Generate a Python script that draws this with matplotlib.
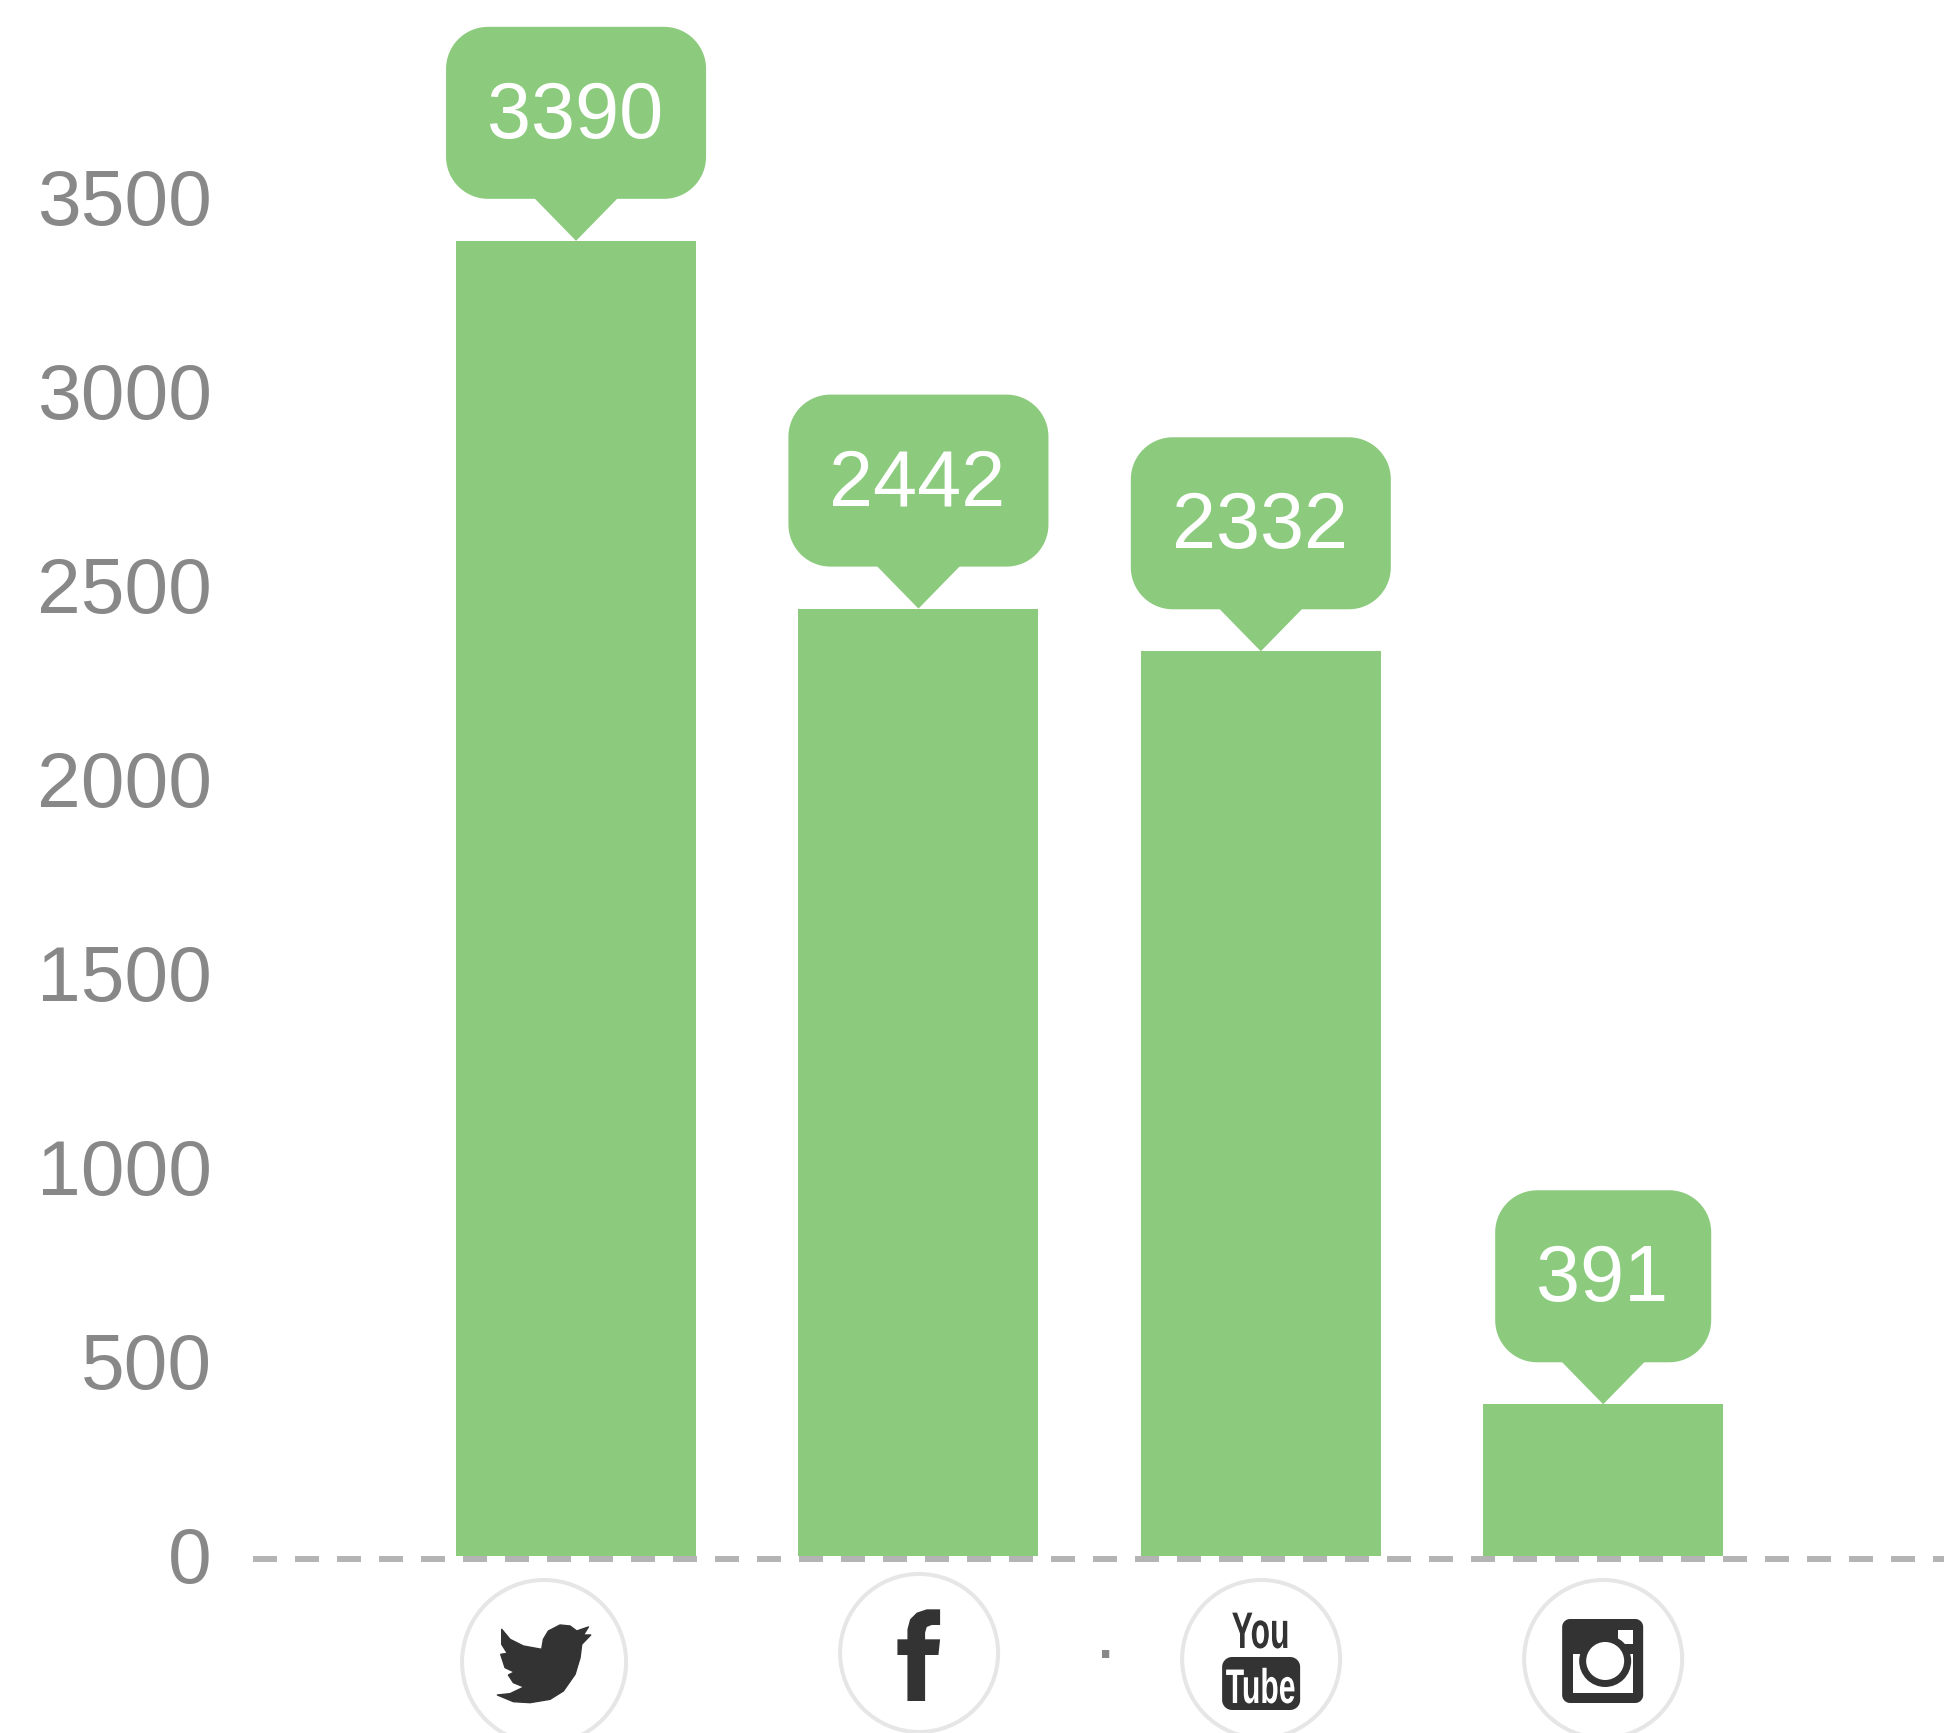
import numpy as np
import matplotlib
matplotlib.use('Agg')
import matplotlib.pyplot as plt
from matplotlib.patches import Circle, FancyBboxPatch, Polygon, Rectangle
from matplotlib.patheffects import AbstractPathEffect
from matplotlib.transforms import Affine2D

plt.rcParams['font.family'] = ['Liberation Sans', 'DejaVu Sans']

# datos
networks = ['Twitter', 'Facebook', 'YouTube', 'Instagram']
followers = [3390, 2442, 2332, 391]
y_ticks = [0, 500, 1000, 1500, 2000, 2500, 3000, 3500]

GREEN = '#8ccb7e'
DARK = '#333333'
GREY = '#888888'

W, H = 1944, 1733
fig = plt.figure(figsize=((W + 0.2) / 100, (H + 0.2) / 100), dpi=100, facecolor='white')

# ejes: el cero cae en y=1556 px, las barras van cada 342.33 px
ax = fig.add_axes([253 / W, (H - 1556) / H, (W - 253) / W, 1556 / H])
ax.set_xlim(-0.9435, 3.996)
ax.set_ylim(0, 1556 / 0.3879)
ax.bar(range(len(networks)), followers, width=0.701, color=GREEN)
ax.set_yticks(y_ticks)
ax.set_xticks([])
ax.tick_params(axis='y', length=0, pad=29.5, labelsize=56.5, labelcolor=GREY)
for lbl in ax.get_yticklabels():
    lbl.set_transform(lbl.get_transform() + Affine2D().translate(0, 2))
for s in ax.spines.values():
    s.set_visible(False)

# capa en pixeles para globos e iconos
ov = fig.add_axes([0, 0, 1, 1])
ov.set_xlim(0, W)
ov.set_ylim(H, 0)
ov.axis('off')

# linea base punteada
ov.plot([253, W], [1559, 1559], color='#b4b4b4', lw=4.32,
        dashes=(4, 3), dash_capstyle='butt')


# rectangulo con esquinas de arco (FancyBboxPatch las deja muy cuadradas)
def round_rect(x, y, w, h, r):
    pts = []
    corners = [(x + r, y + r, 180), (x + w - r, y + r, 270),
               (x + w - r, y + h - r, 0), (x + r, y + h - r, 90)]
    for cx, cy, a0 in corners:
        a = np.radians(np.linspace(a0, a0 + 90, 20))
        pts += list(zip(cx + r * np.cos(a), cy + r * np.sin(a)))
    return pts


# globos con el valor
to_px = ax.transData + ov.transData.inverted()
for i, v in enumerate(followers):
    tx, ty = to_px.transform((i, v))
    w = 260 if v >= 1000 else 216
    ov.add_patch(Polygon(round_rect(tx - w / 2, ty - 214, w, 172, 42), fc=GREEN, ec='none'))
    ov.add_patch(Polygon([(tx - 42, ty - 43), (tx + 42, ty - 43), (tx, ty)],
                         fc=GREEN, ec='none'))
    ov.text(tx - 1, ty - 124, str(v), color='white', fontsize=57,
            ha='center', va='center')

# circulos de los iconos
for cx, cy, r in [(544, 1662, 82), (919, 1653, 79), (1261, 1659, 79), (1603, 1659, 79)]:
    ov.add_patch(Circle((cx, cy), r, fc='none', ec='#e6e6e6', lw=2.9))

# punto suelto entre facebook y youtube
ov.text(1105.5, 1658, '.', color=GREY, fontsize=55, ha='center', va='baseline')

# twitter
bird = np.array([(65, 55), (90, 85), (130, 105), (185, 115), (190, 85), (205, 60),
                 (240, 42), (270, 45), (290, 60), (325, 48), (310, 72), (332, 72),
                 (305, 100), (300, 140), (285, 190), (250, 240), (210, 265), (150, 275),
                 (100, 272), (52, 252), (90, 248), (132, 228), (100, 215), (85, 192),
                 (103, 183), (75, 170), (62, 130), (82, 127), (65, 100)]) / 3 + (480, 1611)
ov.add_patch(Polygon(bird, fc=DARK, ec=DARK, lw=1, joinstyle='round'))

# facebook
f_pts = np.array([(180, 25), (180, 72), (155, 72), (140, 78), (135, 95), (135, 115),
                  (180, 115), (175, 162), (135, 162), (135, 300), (82, 300), (82, 162),
                  (52, 162), (52, 115), (82, 115), (82, 85), (90, 55), (110, 35),
                  (140, 25)]) / 3 + (880, 1601)
ov.add_patch(Polygon(f_pts, fc=DARK, ec='none'))


# angosta el texto alrededor de x0, para el logo de youtube
class Squeeze(AbstractPathEffect):
    def __init__(self, x0, sx):
        super().__init__()
        self.x0, self.sx = x0, sx

    def draw_path(self, renderer, gc, tpath, affine, rgbFace=None):
        t = Affine2D().translate(-self.x0, 0).scale(self.sx, 1).translate(self.x0, 0)
        renderer.draw_path(gc, tpath, affine + t, rgbFace)


# youtube
ov.add_patch(Polygon(round_rect(1222, 1657, 78, 53, 10), fc=DARK, ec='none'))
ov.text(1260.5, 1648, 'You', color=DARK, fontsize=37, fontweight='bold', ha='center',
        va='baseline', path_effects=[Squeeze(1260.5, 0.62)])
ov.text(1260.5, 1703, 'Tube', color='white', fontsize=35, fontweight='bold', ha='center',
        va='baseline', path_effects=[Squeeze(1260.5, 0.62)])

# instagram
ov.add_patch(Polygon(round_rect(1562, 1619, 81, 84, 8), fc=DARK, ec='none'))
ov.add_patch(Rectangle((1618, 1630), 15, 14, fc='white', ec='none'))
ov.add_patch(Rectangle((1573, 1654), 60, 39, fc='white', ec='none'))
ov.add_patch(Circle((1605, 1661), 26, fc=DARK, ec='none'))
ov.add_patch(Circle((1605, 1661), 19, fc='white', ec='none'))

fig.savefig('out.png', dpi=100)
